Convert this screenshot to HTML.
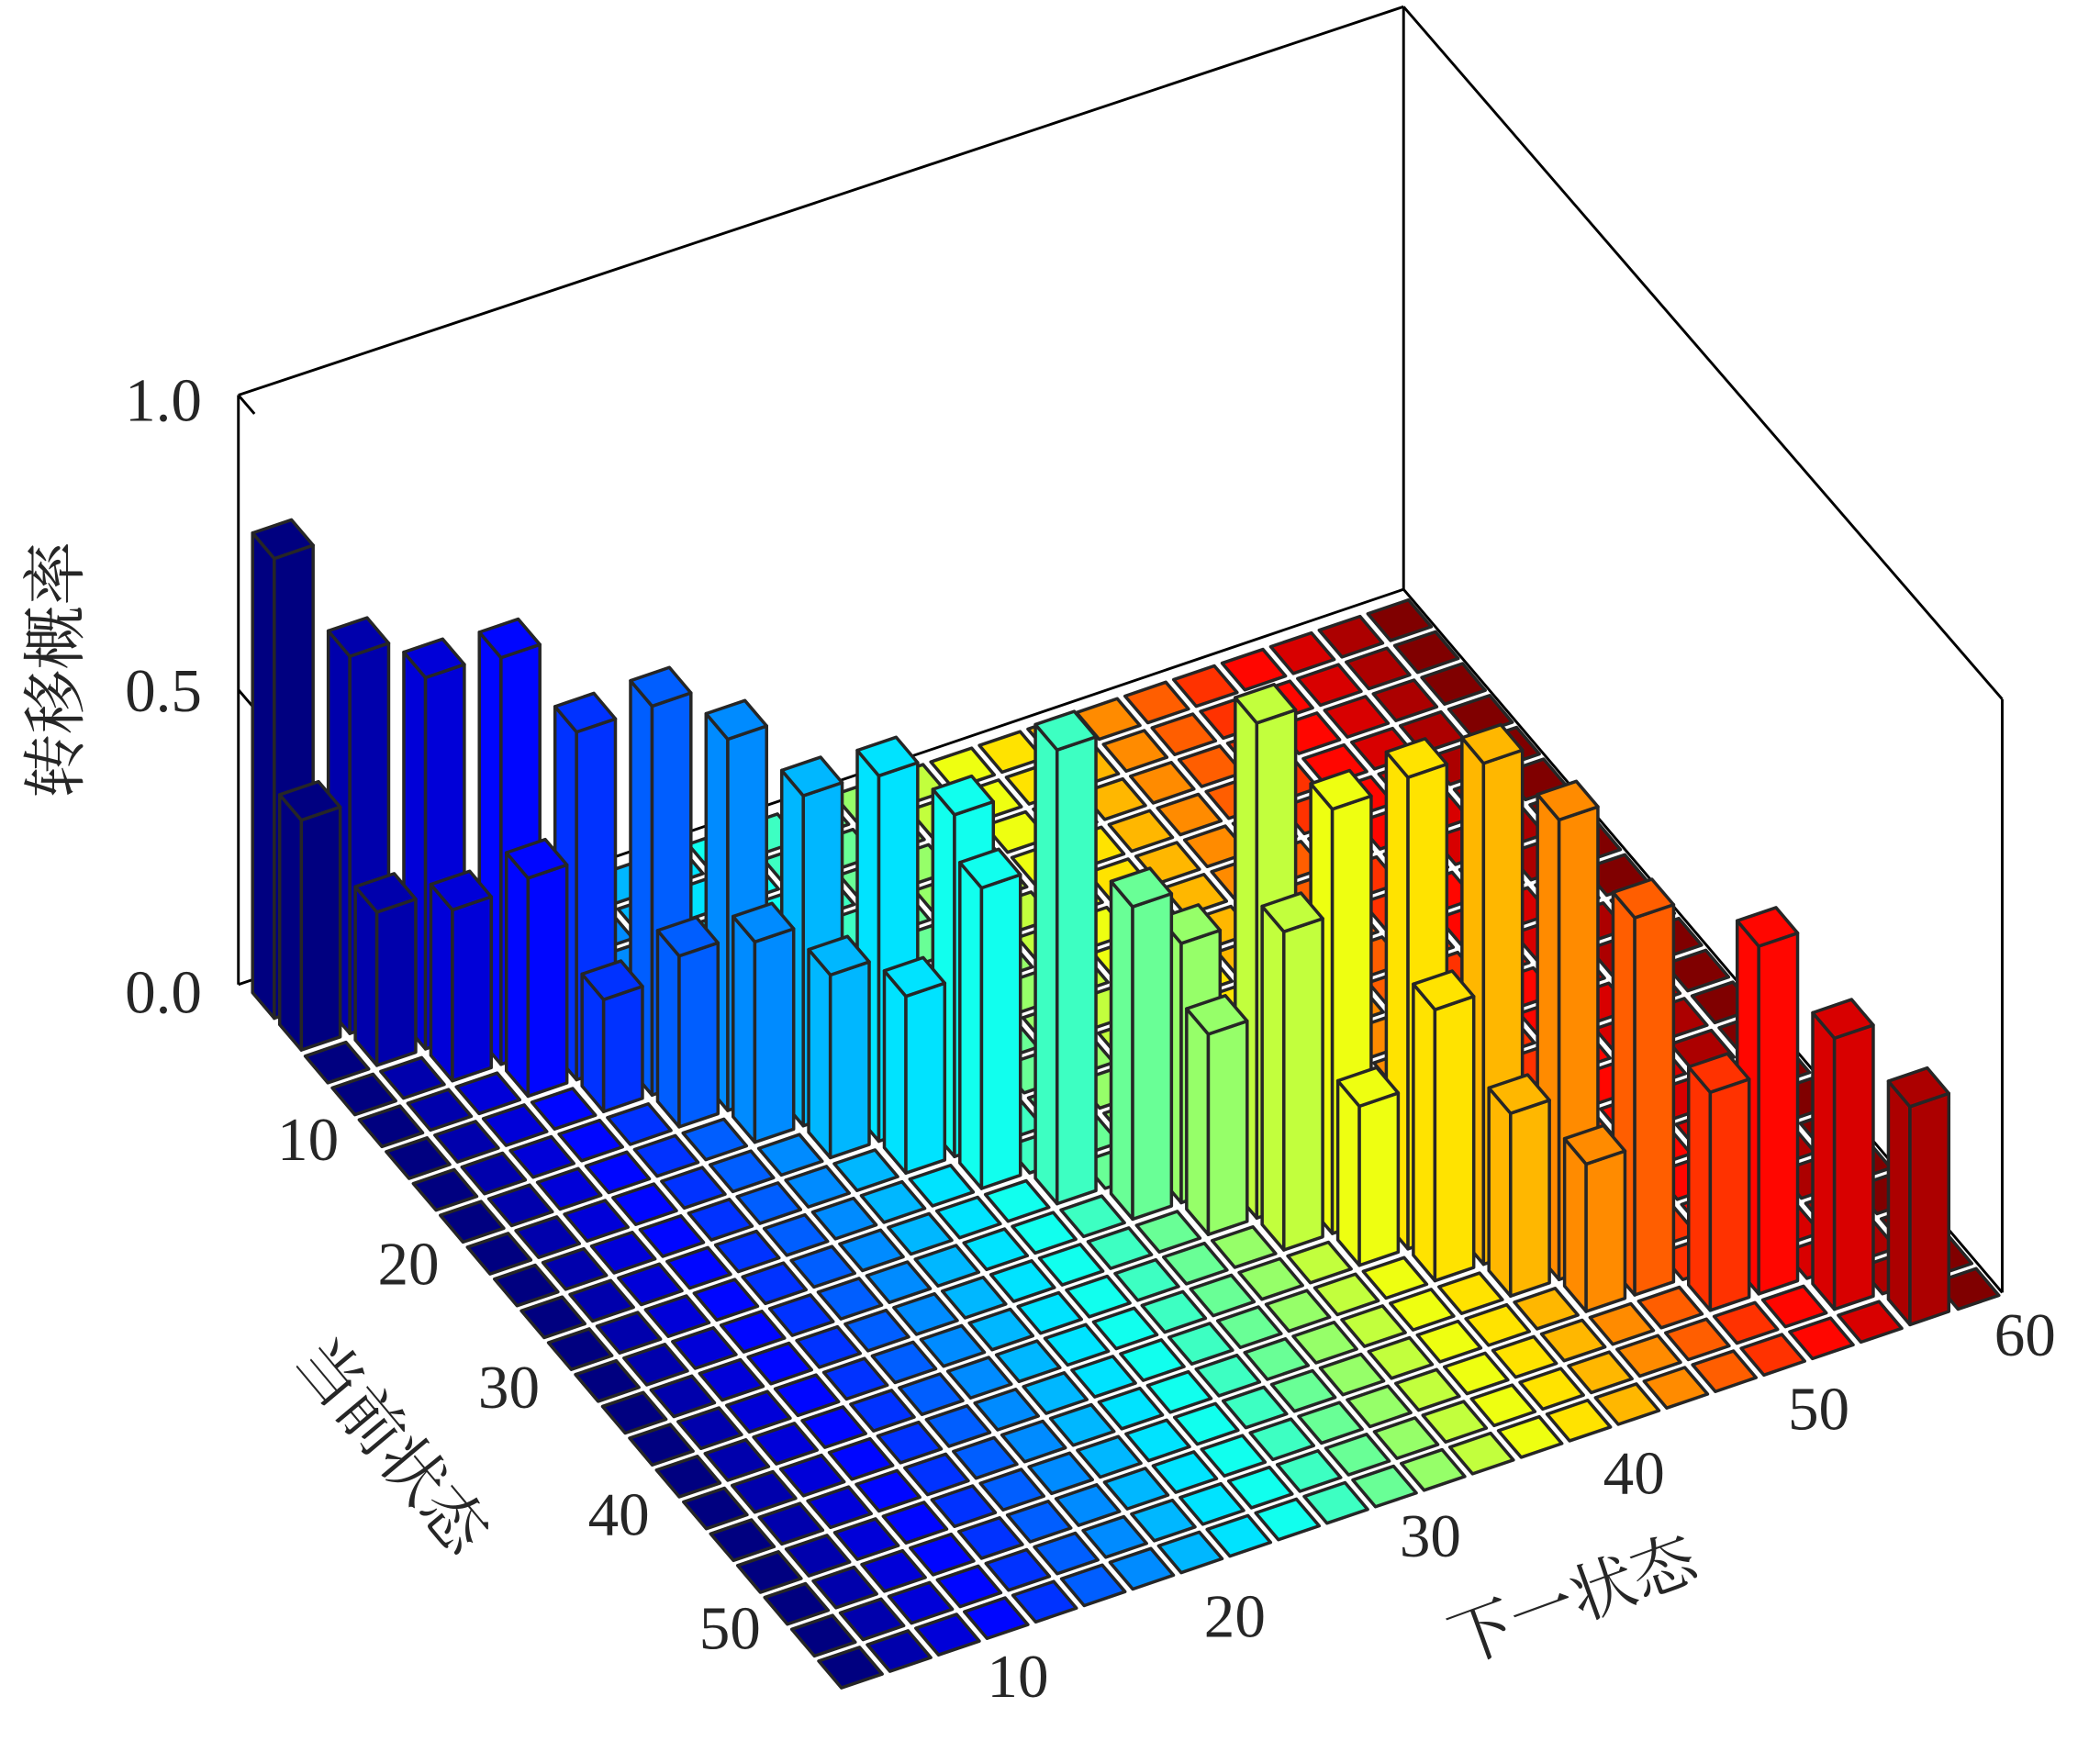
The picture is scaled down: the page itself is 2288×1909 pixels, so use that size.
<!DOCTYPE html>
<html><head><meta charset="utf-8"><style>
html,body{margin:0;padding:0;background:#fff;}
svg{display:block;}
text{font-family:"Liberation Serif","Noto Serif CJK SC","Noto Sans CJK SC",serif;fill:#262626;}
</style></head><body>
<svg id="chart" xmlns="http://www.w3.org/2000/svg" width="2288" height="1909" viewBox="0 0 1568 1308" preserveAspectRatio="none">
<g id="box" stroke="#000" stroke-width="2" fill="none">
<line x1="178" y1="735" x2="1048" y2="440"/>
<line x1="1048" y1="440" x2="1495" y2="965"/>
<line x1="178" y1="295" x2="178" y2="735"/>
<line x1="1048" y1="5" x2="1048" y2="440"/>
<line x1="1495" y1="522" x2="1495" y2="965"/>
<line x1="178" y1="295" x2="1048" y2="5"/>
<line x1="1048" y1="5" x2="1495" y2="522"/>
<line x1="178" y1="295" x2="190" y2="309"/>
<line x1="178" y1="515" x2="190" y2="529"/>
</g>
<g id="bars"></g>
<g font-size="46" text-anchor="middle">
<text x="122" y="314">1.0</text>
<text x="122" y="531">0.5</text>
<text x="122" y="756">0.0</text>
</g>
<g font-size="46" text-anchor="middle">
<text x="230" y="866">10</text>
<text x="305" y="959">20</text>
<text x="380" y="1051">30</text>
<text x="462" y="1146">40</text>
<text x="545" y="1231">50</text>
</g>
<g font-size="46" text-anchor="middle">
<text x="760" y="1267">10</text>
<text x="922" y="1222">20</text>
<text x="1068" y="1162">30</text>
<text x="1220" y="1115">40</text>
<text x="1358" y="1067">50</text>
<text x="1512" y="1012">60</text>
</g>
<text font-size="48" text-anchor="middle" transform="translate(58,500) rotate(-90)" style="font-family:'Noto Serif CJK SC','Noto Sans CJK SC',serif">转移概率</text>
<text font-size="48" text-anchor="middle" transform="translate(280,1090) rotate(50)" style="font-family:'Noto Serif CJK SC','Noto Sans CJK SC',serif">当前状态</text>
<text font-size="48" text-anchor="middle" transform="translate(1180,1210) rotate(-20)" style="font-family:'Noto Serif CJK SC','Noto Sans CJK SC',serif">下一状态</text>
</svg>
<script>
const barRows = [1,2, 2,3, 3,4, 4,5, 5,6, 6,7, 7,8, 8,9, 9,10, 10,11, 12, 13, 13,14, 14,15, 15,16, 16,17, 17,18, 18,19, 19, 20, 20, 21, 22];
const barCols = [1,1, 2,2, 3,3, 4,4, 5,5, 6,6, 7,7, 8,8, 9,9, 10,10, 11, 12, 13,13, 14,14, 15,15, 16,16, 17,17, 18,18, 19, 20, 21, 22, 23];
const barValues = [0.78,0.39, 0.64,0.26, 0.63,0.29, 0.69,0.37, 0.59,0.19, 0.66,0.29, 0.63,0.34, 0.56,0.31, 0.62,0.30, 0.58,0.51, 0.77, 0.53, 0.44,0.34, 0.84,0.54, 0.72,0.27, 0.80,0.46, 0.85,0.31, 0.78,0.25, 0.64, 0.37, 0.59, 0.46, 0.37];
const nRows = 22;
const nCols = 24;

const ORX = 178, ORY = 735, URX = 444/22, URY = 523/22, UCX = 870/24, UCY = -295/24, ZS = 440;
const DX = 5, DY = 5;
function proj(r, c, z) { return [ORX + DX + r*URX + c*UCX, ORY + DY + r*URY + c*UCY - z*ZS]; }
function jet(t) {
  const cl = v => Math.max(0, Math.min(1, v));
  const r = cl(1.5 - Math.abs(4*t - 3)), g = cl(1.5 - Math.abs(4*t - 2)), b = cl(1.5 - Math.abs(4*t - 1));
  return 'rgb(' + Math.round(r*255) + ',' + Math.round(g*255) + ',' + Math.round(b*255) + ')';
}
const Z = [];
for (let i = 0; i < nRows; i++) { Z.push(new Array(nCols).fill(0)); }
for (let k = 0; k < barValues.length; k++) { Z[barRows[k]-1][barCols[k]-1] = barValues[k]; }

const cells = [];
for (let i = 1; i <= nRows; i++) for (let j = 1; j <= nCols; j++) cells.push([i, j]);
cells.sort((a, b) => (a[0] - a[1]) - (b[0] - b[1]) || a[0] - b[0]);

const g = document.getElementById('bars');
const NS = 'http://www.w3.org/2000/svg';
function poly(pts, fill, parent) {
  const p = document.createElementNS(NS, 'polygon');
  p.setAttribute('points', pts.map(q => q[0].toFixed(1) + ',' + q[1].toFixed(1)).join(' '));
  p.setAttribute('fill', fill);
  p.setAttribute('stroke', '#262626');
  p.setAttribute('stroke-width', '2.4');
  p.setAttribute('stroke-linejoin', 'round');
  parent.appendChild(p);
  return p;
}
for (const [i, j] of cells) {
  const z = Z[i-1][j-1];
  const col = jet((j - 1) / (nCols - 1));
  const rc = i - 0.5, cc = j - 0.5;
  const grp = document.createElementNS(NS, 'g');
  if (z > 0) {
    const W = 0.4;
    const r0 = rc - W, r1 = rc + W, c0 = cc - W, c1 = cc + W;
    
    
    poly([proj(r0,c0,0), proj(r1,c0,0), proj(r1,c0,z), proj(r0,c0,z)], col, grp);
    poly([proj(r1,c0,0), proj(r1,c1,0), proj(r1,c1,z), proj(r1,c0,z)], col, grp);
    poly([proj(r0,c0,z), proj(r1,c0,z), proj(r1,c1,z), proj(r0,c1,z)], col, grp);
  } else {
    const W = 0.42;
    const r0 = rc - W, r1 = rc + W, c0 = cc - W, c1 = cc + W;
    
    
    poly([proj(r0,c0,0), proj(r1,c0,0), proj(r1,c1,0), proj(r0,c1,0)], col, grp);
  }
  g.appendChild(grp);
}
</script>
</body></html>
